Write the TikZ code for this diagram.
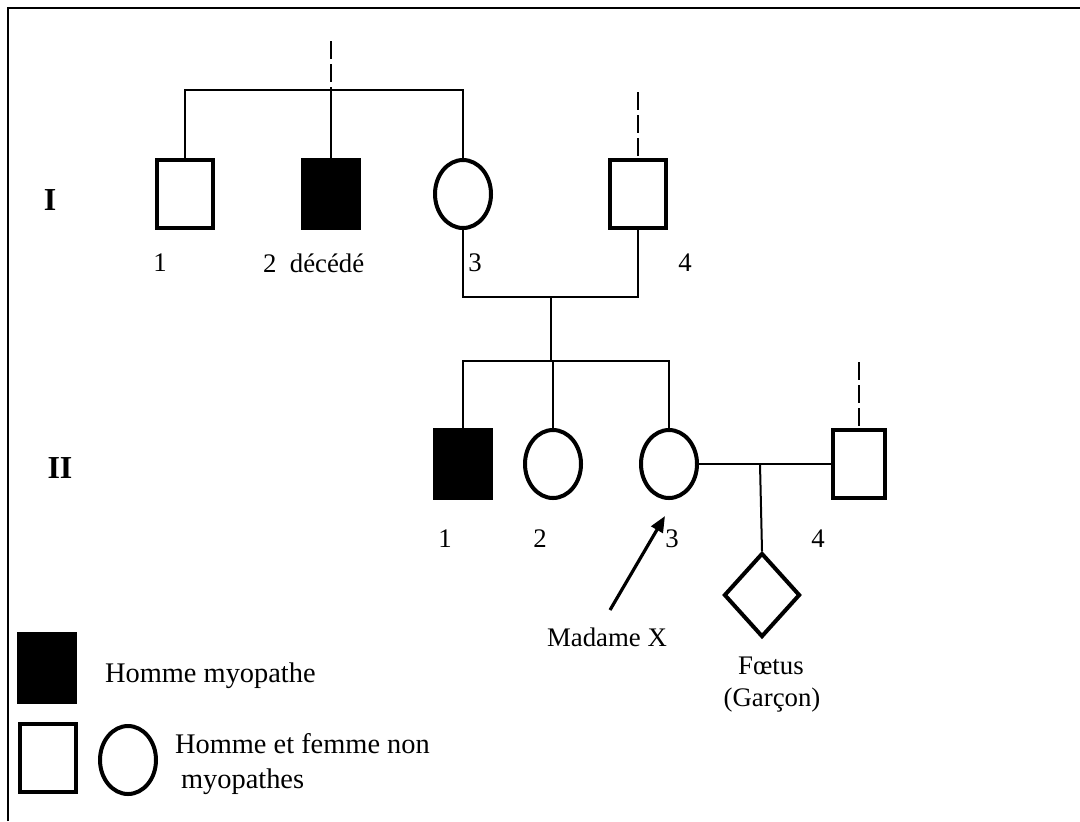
\documentclass[tikz,border=0pt]{standalone}
\usepackage{fontspec}
\setmainfont{Liberation Serif}
\usetikzlibrary{shapes.geometric,arrows.meta}
\newcommand{\fratrie}[2]{\draw[lien] (#1) -| (#2.north);}

\begin{document}
\begin{tikzpicture}[x=0.5pt,y=-0.5pt,
		font=\fontsize{13.4}{16}\selectfont,
		lien/.style={line width=1pt},
		ascend/.style={line width=1pt,dash pattern=on 9pt off 2.5pt},
		homme/.style={draw,rectangle,line width=2pt,minimum width=28pt,minimum height=34pt,inner sep=0pt},
		malade/.style={homme,fill=black},
		femme/.style={draw,ellipse,line width=2pt,minimum width=28pt,minimum height=34pt,inner sep=0pt},
		foetus/.style={draw,diamond,line width=2pt,minimum width=38pt,minimum height=42pt,inner sep=0pt},
		generation/.style={font=\fontsize{16}{18}\selectfont\bfseries},
		legende/.style={anchor=west,font=\fontsize{14.2}{17}\selectfont}]
		\useasboundingbox (0,0) rectangle (1080,821);
		\draw[line width=1.2pt] (8,821) -- (8,8) -- (1080,8);
		
		% generation I
		\node[homme](i1) at (185,194) {};
		\node[malade](i2) at (331,194) {};
		\node[femme](i3) at (463,194) {};
		\node[homme](i4) at (638,194) {};
		\node[generation](gI) at (50,200) {I};
		\node(l1) at (160,263) {1};
		\node[anchor=west](l2) at (256,263) {2\ \ décédé};
		\node(l3) at (475,263) {3};
		\node(l4) at (685,263) {4};
		
		\coordinate(hautI) at (331,41);
		\coordinate(fratI) at (331,90);
		\coordinate(hautIV) at (638,92);
		\coordinate(coupleI) at (551,297);
		\draw[ascend] (hautI) -- (fratI);
		\draw[ascend] (hautIV) -- (i4.north);
		\fratrie{fratI}{i1}
		\fratrie{fratI}{i2}
		\fratrie{fratI}{i3}
		\draw[lien] (i3.south) |- (coupleI) -| (i4.south);
		
		% generation II
		\node[malade](ii1) at (463,464) {};
		\node[femme](ii2) at (553,464) {};
		\node[femme](ii3) at (669,464) {};
		\node[homme,minimum width=26pt](ii4) at (859,464) {};
		\node[foetus](f) at (762,595) {};
		\node[generation](gII) at (60,468) {II};
		\node(m1) at (445,539) {1};
		\node(m2) at (540,539) {2};
		\node(m3) at (672,539) {3};
		\node(m4) at (818,539) {4};
		\node(mx) at (607,637) {Madame X};
		\node(fa) at (771,666) {Fœtus};
		\node(fb) at (772,700) {(Garçon)};
		
		\coordinate(fratII) at (551,361);
		\coordinate(hautIIIV) at (859,362);
		\coordinate(coupleII) at (760,464);
		\coordinate(queue) at (610,610);
		\coordinate(pointe) at (665,516);
		\draw[lien] (coupleI) -- (fratII);
		\fratrie{fratII}{ii1}
		\fratrie{fratII}{ii2}
		\fratrie{fratII}{ii3}
		\draw[ascend] (hautIIIV) -- (ii4.north);
		\draw[lien] (ii3) -- (ii4);
		\draw[lien] (coupleII) -- (f.north);
		\draw[line width=1.6pt,-{Triangle[length=8pt,width=6.5pt]}] (queue) -- (pointe);
		
		% legende
		\node[malade](lm) at (47,668) {};
		\node[homme](lh) at (48,758) {};
		\node[femme](lf) at (128,760) {};
		\node[legende](tm) at (98,676) {Homme myopathe};
		\node[legende](th1) at (168,744) {Homme et femme non};
		\node[legende](th2) at (174,782) {myopathes};
	\end{tikzpicture}
\end{document}
